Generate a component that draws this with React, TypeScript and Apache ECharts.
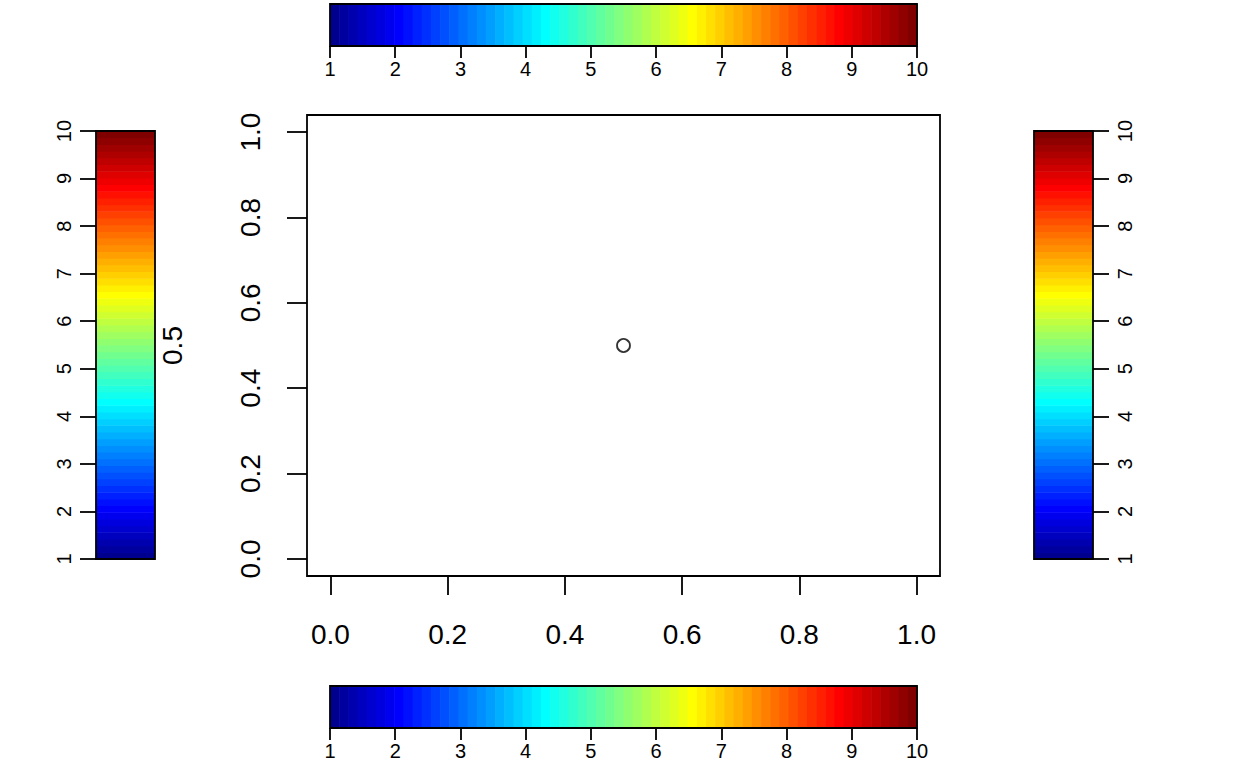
import React, { useEffect, useRef } from "react";
import * as echarts from "echarts";

// ---- data ----
const pointX = [0.5];
const pointY = [0.5];
const mainTicks = [0, 0.2, 0.4, 0.6, 0.8, 1.0];
const yLabel = "0.5";
const barMin = 1;
const barMax = 10;
const barTicks = [1, 2, 3, 4, 5, 6, 7, 8, 9, 10];
const nColors = 64;

// MATLAB-style jet colour map (palette used by the colour bars)
function jetColors(m: number): string[] {
  const n = Math.ceil(m / 4);
  const u: number[] = [];
  for (let k = 1; k <= n; k++) u.push(k / n);
  for (let k = 1; k <= n - 1; k++) u.push(1);
  for (let k = n; k >= 1; k--) u.push(k / n);
  const off = Math.ceil(n / 2) - (m % 4 === 1 ? 1 : 0);
  const r = new Array(m).fill(0);
  const g = new Array(m).fill(0);
  const b = new Array(m).fill(0);
  for (let i = 0; i < u.length; i++) {
    const gi = off + i + 1;
    const ri = gi + n;
    const bi = gi - n;
    if (gi >= 1 && gi <= m) g[gi - 1] = u[i];
    if (ri >= 1 && ri <= m) r[ri - 1] = u[i];
    if (bi >= 1 && bi <= m) b[bi - 1] = u[i];
  }
  const h = (v: number) => Math.round(v * 255).toString(16).padStart(2, "0");
  return r.map((_, i) => "#" + h(r[i]) + h(g[i]) + h(b[i]));
}

const colors = jetColors(nColors);
const bands: number[][] = colors.map((_, i) => [
  barMin + ((barMax - barMin) * i) / nColors,
  barMin + ((barMax - barMin) * (i + 1)) / nColors,
  i,
]);

const FONT = "Liberation Sans, Arial, Helvetica, sans-serif";
const LW = 1.8;

export default function App() {
  const ref = useRef<HTMLDivElement>(null);
  useEffect(() => {
    if (!ref.current) return;
    const chart = echarts.init(ref.current, undefined, { renderer: "svg" });

    const bars = [
      { left: 330, top: 4, width: 587, height: 42, horiz: true, pos: "bottom" },
      { left: 330, top: 686, width: 587, height: 42, horiz: true, pos: "bottom" },
      { left: 96, top: 131, width: 59, height: 428, horiz: false, pos: "left" },
      { left: 1034, top: 131, width: 59, height: 428, horiz: false, pos: "right" },
    ];

    const grids: any[] = [
      {
        left: 307,
        top: 115,
        width: 633,
        height: 461,
        show: true,
        borderColor: "#000",
        borderWidth: LW,
        backgroundColor: "transparent",
      },
    ];
    const xAxes: any[] = [
      {
        type: "value",
        gridIndex: 0,
        position: "bottom",
        min: -0.04,
        max: 1.04,
        axisLine: { show: false, onZero: false },
        splitLine: { show: false },
        axisTick: {
          show: true,
          length: 19,
          customValues: mainTicks,
          lineStyle: { color: "#000", width: LW },
        },
        axisLabel: {
          customValues: mainTicks,
          formatter: (v: number) => v.toFixed(1),
          fontSize: 28,
          color: "#000",
          fontFamily: FONT,
          margin: 44,
        },
      },
    ];
    const yAxes: any[] = [
      {
        type: "value",
        gridIndex: 0,
        position: "left",
        min: -0.04,
        max: 1.04,
        name: yLabel,
        nameLocation: "middle",
        nameGap: 121,
        nameTextStyle: { fontSize: 28, color: "#000", fontFamily: FONT },
        axisLine: { show: false, onZero: false },
        splitLine: { show: false },
        axisTick: {
          show: true,
          length: 20,
          customValues: mainTicks,
          lineStyle: { color: "#000", width: LW },
        },
        axisLabel: {
          customValues: mainTicks,
          formatter: (v: number) => v.toFixed(1),
          fontSize: 28,
          color: "#000",
          fontFamily: FONT,
          rotate: 90,
          margin: 43,
        },
      },
    ];
    const series: any[] = [
      {
        type: "scatter",
        xAxisIndex: 0,
        yAxisIndex: 0,
        data: pointX.map((x, i) => [x, pointY[i]]),
        symbol: "circle",
        symbolSize: 13,
        itemStyle: { color: "rgba(255,255,255,0)", borderColor: "#000", borderWidth: 1.8 },
        z: 5,
      },
    ];

    const valueAxis = (gi: number, pos: string, rotate: number) => ({
      type: "value",
      gridIndex: gi,
      position: pos,
      min: barMin,
      max: barMax,
      interval: 1,
      axisLine: { show: false, onZero: false },
      splitLine: { show: false },
      axisTick: {
        show: true,
        length: pos === "bottom" ? 12 : 16,
        lineStyle: { color: "#000", width: LW },
      },
      axisLabel: {
        show: true,
        fontSize: 20,
        color: "#000",
        fontFamily: FONT,
        rotate,
        margin: pos === "bottom" ? 13 : 22,
        formatter: (v: number) => (barTicks.includes(v) ? String(v) : ""),
      },
    });
    const hiddenAxis = (gi: number) => ({
      type: "value",
      gridIndex: gi,
      min: 0,
      max: 1,
      show: false,
      axisLine: { onZero: false },
    });

    bars.forEach((bdef, k) => {
      const gi = k + 1;
      grids.push({
        left: bdef.left,
        top: bdef.top,
        width: bdef.width,
        height: bdef.height,
        show: false,
      });
      if (bdef.horiz) {
        xAxes.push(valueAxis(gi, bdef.pos, 0));
        yAxes.push(hiddenAxis(gi));
      } else {
        xAxes.push(hiddenAxis(gi));
        yAxes.push(valueAxis(gi, bdef.pos, 90));
      }
      const horiz = bdef.horiz;
      series.push({
        type: "custom",
        xAxisIndex: gi,
        yAxisIndex: gi,
        data: bands,
        encode: horiz ? { x: [0, 1] } : { y: [0, 1] },
        renderItem: (params: any, api: any) => {
          const lo = api.value(0);
          const hi = api.value(1);
          const ci = api.value(2);
          const cs = params.coordSys;
          if (horiz) {
            const x0 = api.coord([lo, 0.5])[0];
            const x1 = api.coord([hi, 0.5])[0];
            return {
              type: "rect",
              shape: { x: x0, y: cs.y, width: x1 - x0 + 0.6, height: cs.height },
              style: { fill: colors[ci] },
            };
          }
          const y0 = api.coord([0.5, lo])[1];
          const y1 = api.coord([0.5, hi])[1];
          return {
            type: "rect",
            shape: { x: cs.x, y: y1, width: cs.width, height: y0 - y1 + 0.6 },
            style: { fill: colors[ci] },
          };
        },
        z: 2,
      });
      series.push({
        type: "custom",
        xAxisIndex: gi,
        yAxisIndex: gi,
        data: [[0]],
        renderItem: (params: any) => {
          const cs = params.coordSys;
          return {
            type: "rect",
            shape: { x: cs.x, y: cs.y, width: cs.width, height: cs.height },
            style: { fill: "none", stroke: "#000", lineWidth: LW },
          };
        },
        z: 3,
      });
    });

    chart.setOption({
      animation: false,
      backgroundColor: "#fff",
      grid: grids,
      xAxis: xAxes,
      yAxis: yAxes,
      series,
    });
    return () => chart.dispose();
  }, []);

  return (
    <div
      ref={ref}
      style={{ position: "fixed", left: 0, top: 0, width: 1248, height: 768 }}
    />
  );
}
